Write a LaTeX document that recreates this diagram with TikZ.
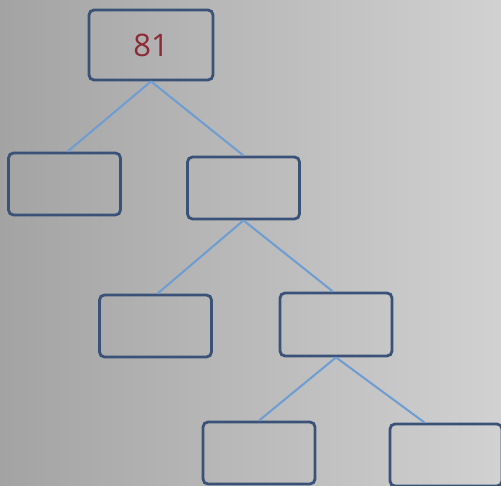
\documentclass[tikz,border=0pt]{standalone}
\usepackage{fontspec}
\setmainfont{Open Sans}
\usetikzlibrary{calc}
\definecolor{boxline}{HTML}{3B5278}
\definecolor{edgeline}{HTML}{6D9DD2}
\definecolor{numred}{HTML}{8E2A36}
\tikzset{
  treebox/.style={draw=boxline, line width=2.8pt, rounded corners=5pt, minimum width=#1},
  treebox/.default=112pt,
  edge/.style={draw=edgeline, line width=2pt},
}
\begin{document}
\begin{tikzpicture}[x=1pt,y=-1pt]
\shade[left color=black!36, right color=black!18] (0,0) rectangle (501,486);
\useasboundingbox (0,0) rectangle (501,486);
\node[treebox=124pt, minimum height=70pt, text=numred, font=\fontsize{31}{33}\selectfont] (root) at (151,45) {81};
\node[treebox, minimum height=62pt] (a) at (64.5,184) {};
\node[treebox, minimum height=62pt] (b) at (243.5,188) {};
\node[treebox, minimum height=62pt] (c) at (155.5,326) {};
\node[treebox, minimum height=63pt] (d) at (336,324.5) {};
\node[treebox, minimum height=62pt] (e) at (259,453) {};
\node[treebox=112pt, minimum height=62pt] (f) at (446,455) {};
\coordinate (fin) at ($(f.north west)+(36,0)$);
\draw[edge] (root.south) -- ($(a.north)+(3,0)$);
\draw[edge] (root.south) -- (b.north);
\draw[edge] (b.south) -- ($(c.north)+(2,0)$);
\draw[edge] (b.south) -- ($(d.north)+(-3,0)$);
\draw[edge] (d.south) -- (e.north);
\draw[edge] (d.south) -- (fin);
\end{tikzpicture}
\end{document}
